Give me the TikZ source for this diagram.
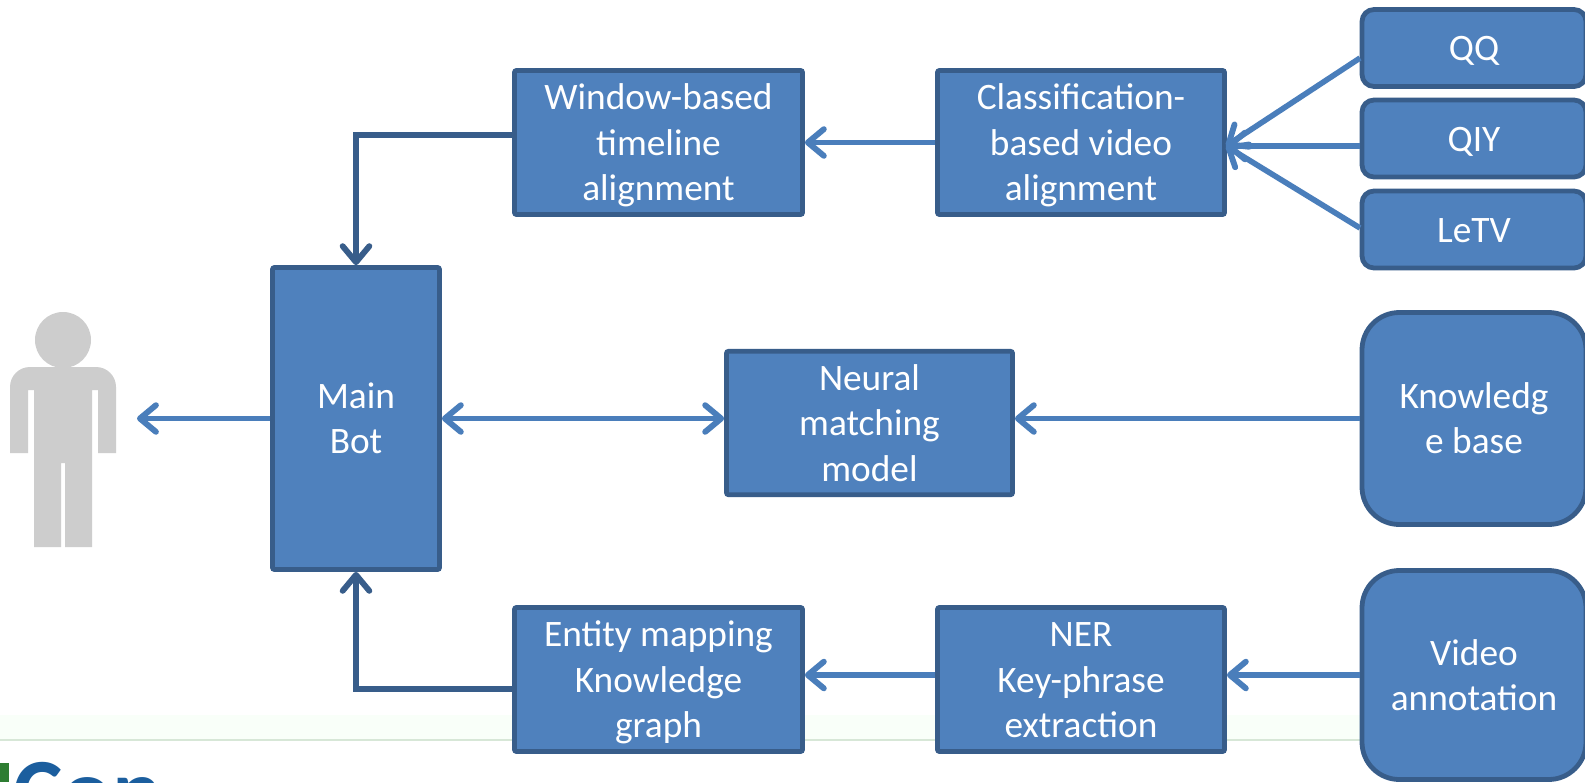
\documentclass[tikz,border=0pt]{standalone}
\usepackage{fontspec}
\setmainfont{Carlito}
\usetikzlibrary{arrows.meta,calc}
\definecolor{boxfill}{HTML}{4F81BD}
\definecolor{boxline}{HTML}{385D8A}
\definecolor{arrline}{HTML}{4A7EBB}
\definecolor{persongray}{HTML}{CDCDCD}
\definecolor{logoblue}{HTML}{1B5E9E}
\definecolor{logogreen}{HTML}{2E7D32}
\tikzset{
  base/.style={draw=boxline,fill=boxfill,line width=3.6pt,text=white,inner sep=0pt,
    font=\fontsize{28pt}{34pt}\selectfont},
  sqbox/.style={base,rounded corners=1.5pt},
  rdbox/.style={base,rounded corners=9pt},
  bigbox/.style={base,rounded corners=28pt},
  tipend/.tip={Straight Barb[length=12pt,width=20pt,line width=4.4pt,round]},
  arr/.style={draw=arrline,line width=4.2pt,-tipend},
  arrb/.style={draw=arrline,line width=4.2pt,tipend-tipend},
  darr/.style={arr,draw=boxline}
}
\newcommand{\boxat}[7]{\node[#2,minimum width=#5*0.75pt,minimum height=#6*0.75pt] (#1) at (#3,#4) {\vbox{\kern5.5pt\hbox{\begin{tabular}{@{}c@{}}#7\end{tabular}}}};}
\begin{document}
\begin{tikzpicture}[x=0.75pt,y=-0.75pt]
\useasboundingbox (0,0) rectangle (1585,782);
\fill[white] (0,0) rectangle (1585,782);
% faint band and logo remnant
\fill[green!20!white,opacity=0.1] (0,715) rectangle (1585,740);
\draw[green!25!gray!25!white,line width=0.8pt] (0,740) -- (1585,740);
\begin{scope}
\clip (0,0) rectangle (1585,782);
\fill[logogreen] (0,763) rectangle (9,782);
\node[anchor=base west,inner sep=0pt,text=logoblue,font=\fontsize{70pt}{70pt}\selectfont\bfseries] (logo) at (13,823) {Con};
\end{scope}
% person
\fill[persongray] (63,340) circle (28);
\fill[persongray] (10,453) -- (10,387) to[out=90,in=180] (30,367) -- (96,367) to[out=0,in=90] (116,387)
  -- (116,453) -- (98,453) -- (98,390) -- (92,390) -- (92,547) -- (65,547) -- (65,463) -- (61,463)
  -- (61,547) -- (34,547) -- (34,390) -- (28,390) -- (28,453) -- cycle;
\coordinate (person) at (137,418.5);
% boxes
\boxat{main}{sqbox}{356}{418.5}{167}{302}{Main\\Bot}
\boxat{window}{sqbox}{658.5}{142.5}{288}{144}{Window-based\\timeline\\alignment}
\boxat{classif}{sqbox}{1081}{142.5}{287}{144}{Classification-\\based video\\alignment}
\boxat{neural}{sqbox}{869.5}{423}{286}{143}{Neural\\matching\\model}
\boxat{entity}{sqbox}{658.5}{679.5}{288}{144}{Entity mapping\\Knowledge\\graph}
\boxat{ner}{sqbox}{1081}{679.5}{287}{144}{NER\\Key-phrase\\extraction}
\boxat{qq}{rdbox}{1474}{48}{224}{77}{QQ}
\boxat{qiy}{rdbox}{1474}{138.5}{224}{77}{QIY}
\boxat{letv}{rdbox}{1474}{229.5}{224}{77}{LeTV}
\boxat{know}{bigbox}{1474}{418.5}{224}{212}{Knowledg\\e base}
\boxat{video}{bigbox}{1474}{675}{224}{209}{Video\\annotation}
% anchor points
\coordinate (qqout) at (1360,58);
\coordinate (qiyout) at (1360,146);
\coordinate (letvout) at (1360,228);
\coordinate (clin) at (1226,146);
% connectors
\draw[arr] (qqout) -- (clin);
\draw[arr] (qiyout) -- (clin);
\draw[arr] (letvout) -- (clin);
\draw[arr] (classif.west) -- (window.east);
\draw[darr] (window.west |- 0,135) -| (main.north);
\draw[arr] (main.west) -- (person);
\draw[arrb] (main.east) -- (neural.west |- main.east);
\draw[arr] (know.west) -- (neural.east |- know.west);
\draw[arr] (video.west) -- (ner.east |- video.west);
\draw[arr] (ner.west |- video.west) -- (entity.east |- video.west);
\draw[darr] (entity.west |- 0,689) -| (main.south);
\end{tikzpicture}
\end{document}
